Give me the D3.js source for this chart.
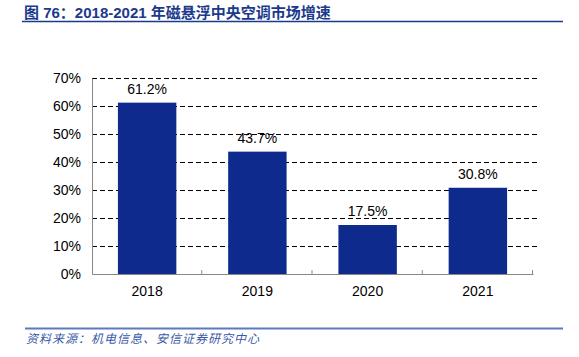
<!DOCTYPE html>
<html><head><meta charset="utf-8">
<script src="https://cdn.jsdelivr.net/npm/d3@7"></script>
<style>body{margin:0;background:#fff}svg{display:block}</style>
</head><body>
<svg id="c" width="579" height="357"></svg>
<script>
const categories = ["2018", "2019", "2020", "2021"];
const values = [61.2, 43.7, 17.5, 30.8];
const yTicks = [0, 10, 20, 30, 40, 50, 60, 70];
const titleText = "图 76：2018-2021 年磁悬浮中央空调市场增速";
const sourceText = "资料来源：机电信息、安信证券研究中心";

const svg = d3.select("#c");
const m = {left: 92, right: 533, top: 78, bottom: 274};
const x = d3.scaleBand().domain(categories).range([m.left, m.right]).paddingInner(0.47).paddingOuter(0.235);
const y = d3.scaleLinear().domain([0, 70]).range([m.bottom, m.top]);
const font = "Liberation Sans, Arial, sans-serif";

// title
svg.append("text").attr("x", 24).attr("y", 18).attr("fill", "#1b3a8c")
  .attr("font-family", "Liberation Sans, Noto Sans CJK SC, sans-serif").attr("font-weight", "bold").attr("font-size", 15)
  .text(titleText);
svg.append("line").attr("x1", 22).attr("x2", 563).attr("y1", 21.5).attr("y2", 21.5)
  .attr("stroke", "#1b3a8c").attr("stroke-width", 1.5);

// grid
svg.append("g").selectAll("line").data(yTicks.filter(d => d > 0)).join("line")
  .attr("x1", m.left).attr("x2", 540).attr("y1", d => Math.round(y(d)) + 0.5).attr("y2", d => Math.round(y(d)) + 0.5)
  .attr("stroke", "#000").attr("stroke-dasharray", "5,3").attr("stroke-width", 1);

// y axis
const ya = svg.append("g").attr("transform", `translate(${m.left},0)`)
  .call(d3.axisLeft(y).tickValues(yTicks).tickFormat(d => d + "%").tickSize(0).tickPadding(11));
ya.select(".domain").attr("stroke", "#888");
ya.selectAll("text").attr("font-family", font).attr("font-size", 14).attr("fill", "#000");

// bars
svg.append("g").selectAll("rect").data(values).join("rect")
  .attr("x", (d, i) => x(categories[i])).attr("width", x.bandwidth())
  .attr("y", d => y(d)).attr("height", d => y(0) - y(d)).attr("fill", "#0e2a8c");

// value labels
svg.append("g").selectAll("text").data(values).join("text")
  .attr("x", (d, i) => x(categories[i]) + x.bandwidth() / 2).attr("y", d => y(d) - 9)
  .attr("text-anchor", "middle").attr("font-family", font).attr("font-size", 14).attr("fill", "#000")
  .text(d => d.toFixed(1) + "%");

// x axis
const xa = svg.append("g").attr("transform", `translate(0,${m.bottom})`)
  .call(d3.axisBottom(x).tickSize(0).tickPadding(12));
xa.select(".domain").attr("stroke", "#888");
xa.selectAll("text").attr("font-family", font).attr("font-size", 14).attr("fill", "#000");
const step = x.step();
svg.append("g").selectAll("line").data(categories).join("line")
  .attr("x1", (d, i) => m.left + step * (i + 1) - 0.5).attr("x2", (d, i) => m.left + step * (i + 1) - 0.5)
  .attr("y1", m.bottom - 4).attr("y2", m.bottom).attr("stroke", "#888");

// source
svg.append("line").attr("x1", 25).attr("x2", 563).attr("y1", 328.5).attr("y2", 328.5)
  .attr("stroke", "#5b7bbd").attr("stroke-width", 2);
svg.append("text").attr("x", 26).attr("y", 343).attr("fill", "#3a5aa8")
  .attr("font-family", "Noto Sans CJK SC, sans-serif").attr("font-style", "italic").attr("font-size", 12)
  .attr("letter-spacing", 1)
  .text(sourceText);
</script>
</body></html>
